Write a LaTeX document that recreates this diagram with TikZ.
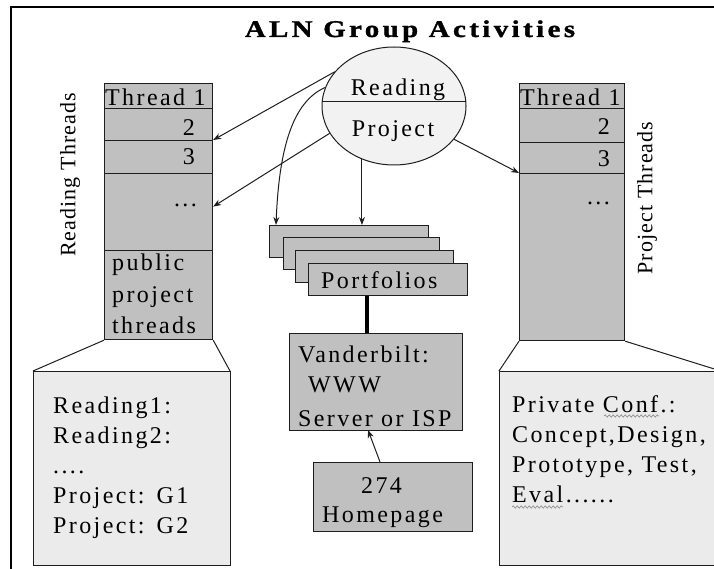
\documentclass[tikz,border=0pt]{standalone}
\usepackage{fontspec}
\setmainfont{Liberation Serif}[LetterSpace=10]
\newfontfamily\rotfont{Liberation Serif}[LetterSpace=5]
\newfontfamily\titlefont{Liberation Serif Bold}[LetterSpace=12, FakeBold=1.2]
\usetikzlibrary{shapes.geometric,calc,decorations.pathmorphing,arrows.meta}
\definecolor{boxgray}{HTML}{C0C0C0}
\definecolor{lightgray2}{HTML}{EBEBEB}
\definecolor{circfill}{HTML}{F2F2F2}
\definecolor{linec}{HTML}{1E1E1E}
\definecolor{squig}{HTML}{8A8A8A}
\tikzset{
  box/.style={draw=linec, line width=1.2pt, fill=boxgray, inner sep=0pt, anchor=north west},
  lightbox/.style={box, fill=lightgray2},
  txt/.style={inner sep=0pt, anchor=base west, font=\fontsize{24}{30}\selectfont},
  txtr/.style={txt, anchor=base east},
  thinline/.style={draw=linec, line width=1pt},
  arr/.style={thinline, -{Stealth[length=8pt,width=6pt]}},
  thickline/.style={draw=black, line width=4.5pt},
  squiggle/.style={draw=squig, line width=0.6pt, decorate, decoration={snake, amplitude=1.2pt, segment length=4pt}},
}
\begin{document}
\begin{tikzpicture}[x=1pt,y=-1pt]
\useasboundingbox (0,0) rectangle (714,569);
\clip (0,0) rectangle (714,569);
\fill[white] (0,0) rectangle (714,569);
% frame
\draw[black, line width=2pt] (11,569) -- (11,7) -- (714,7);

% title
\node[inner sep=0pt, anchor=base, font=\titlefont\fontsize{24}{28}\selectfont] (title) at (410,37) {\scalebox{1.2}[1]{ALN Group Activities}};

% left column
\node[box, minimum width=108pt, minimum height=25pt] (l1) at (104,83) {};
\node[box, minimum width=108pt, minimum height=32pt] (l2) at (104,108) {};
\node[box, minimum width=108pt, minimum height=33pt] (l3) at (104,140) {};
\node[box, minimum width=108pt, minimum height=77pt] (l4) at (104,173) {};
\node[box, minimum width=108pt, minimum height=89pt] (l5) at (104,250) {};
\node[txt] (lt1) at (105,106) {Thread 1};
\node[txtr] (lt2) at (195,136) {2};
\node[txtr] (lt3) at (195,165) {3};
\node[txtr] (lt4) at (197,207) {...};
\node[txt] (lt5) at (112,270) {public};
\node[txt] (lt6) at (112,302) {project};
\node[txt] (lt7) at (112,333) {threads};
\node[rotate=90, inner sep=0pt, font=\rotfont\fontsize{22}{26}\selectfont] (rtl) at (70,175) {Reading Threads};

% right column
\node[box, minimum width=105pt, minimum height=25pt] (r1) at (519,83) {};
\node[box, minimum width=105pt, minimum height=34pt] (r2) at (519,108) {};
\node[box, minimum width=105pt, minimum height=31pt] (r3) at (519,142) {};
\node[box, minimum width=105pt, minimum height=167pt] (r4) at (519,173) {};
\node[txt] (rt1) at (520,106) {Thread 1};
\node[txtr] (rt2) at (610,135) {2};
\node[txtr] (rt3) at (610,167) {3};
\node[txtr] (rt4) at (610,205) {...};
\node[rotate=90, inner sep=0pt, font=\rotfont\fontsize{22}{26}\selectfont] (rtr) at (647,198) {Project Threads};

% zoom boxes
\draw[thinline] (l5.south west) -- (33,371) coordinate (lbnw);
\draw[thinline] (l5.south east) -- (230,371) coordinate (lbne);
\node[lightbox, minimum width=197pt, minimum height=194pt] (lb) at (33,371) {};
\node[txt] (b1) at (53,413) {Reading1:};
\node[txt] (b2) at (53,443) {Reading2:};
\node[txt] (b3) at (53,473) {....};
\node[txt] (b4) at (53,503) {Project:\hspace*{12pt}G1};
\node[txt] (b5) at (53,533) {Project:\hspace*{12pt}G2};

\draw[thinline] (r4.south west) -- (499,371);
\draw[thinline] (r4.south east) -- (724,372);
\node[lightbox, minimum width=225pt, minimum height=194pt] (rb) at (499,371) {};
\node[txt] (c1) at (512,412) {Private Conf.:};
\node[txt] (c2) at (512,442) {Concept,Design,};
\node[txt] (c3) at (512,472) {Prototype, Test,};
\node[txt] (c4) at (512,502) {Eval......};
\draw[squiggle] (604,416) -- (659,416);
\draw[squiggle] (512,507) -- (563,507);

% circle
\node[ellipse, draw=linec, line width=1pt, fill=circfill, minimum width=144pt, minimum height=118pt, inner sep=0pt] (circ) at (394,106) {};
\draw[thinline] ($(circ.center)+(-71.8,-4)$) -- ($(circ.center)+(71.8,-4)$);
\node[inner sep=0pt, anchor=base, font=\fontsize{24}{30}\selectfont] (cr) at (398,96) {Reading};
\node[inner sep=0pt, anchor=base, font=\fontsize{24}{30}\selectfont] (cp) at (393,137) {Project};

% portfolios
\node[box, minimum width=159pt, minimum height=32pt] (pf1) at (269,225) {};
\node[box, minimum width=156pt, minimum height=32pt] (pf2) at (283,237) {};
\node[box, minimum width=158pt, minimum height=32pt] (pf3) at (295,250) {};
\node[box, minimum width=159pt, minimum height=32pt] (pf4) at (308,263) {};
\node[txt] (pft) at (321,288) {Portfolios};

% vanderbilt
\node[box, minimum width=173pt, minimum height=97pt] (vb) at (289,333) {};
\node[txt] (v1) at (298,362) {Vanderbilt:};
\node[txt] (v2) at (308,392) {WWW};
\node[txt] (v3) at (298,426) {Server or ISP};

% homepage
\node[box, minimum width=159pt, minimum height=69pt] (hp) at (313,462) {};
\node[txt] (h1) at (361,493) {274};
\node[txt] (h2) at (322,522) {Homepage};

% connectors
\coordinate (tl) at (367,0);
\draw[thickline] (pf4.south -| tl) -- (vb.north -| tl);
\coordinate (a3e) at (276,225);
\draw[arr] (circ.150) -- (l3.north east);
\draw[arr] (circ.203) -- ($(l4.east)+(0,-5.5)$);
\draw[arr] (circ.165) .. controls (292,102) and (279,150) .. (a3e);
\draw[arr] (circ.239) -- (circ.239 |- pf1.north);
\draw[arr] (circ.-29) -- (r4.north west);
\coordinate (hps) at ($(hp.north west)+(67,0)$);
\draw[arr] (hps) -- (368,430) coordinate (vbe);
\end{tikzpicture}
\end{document}
